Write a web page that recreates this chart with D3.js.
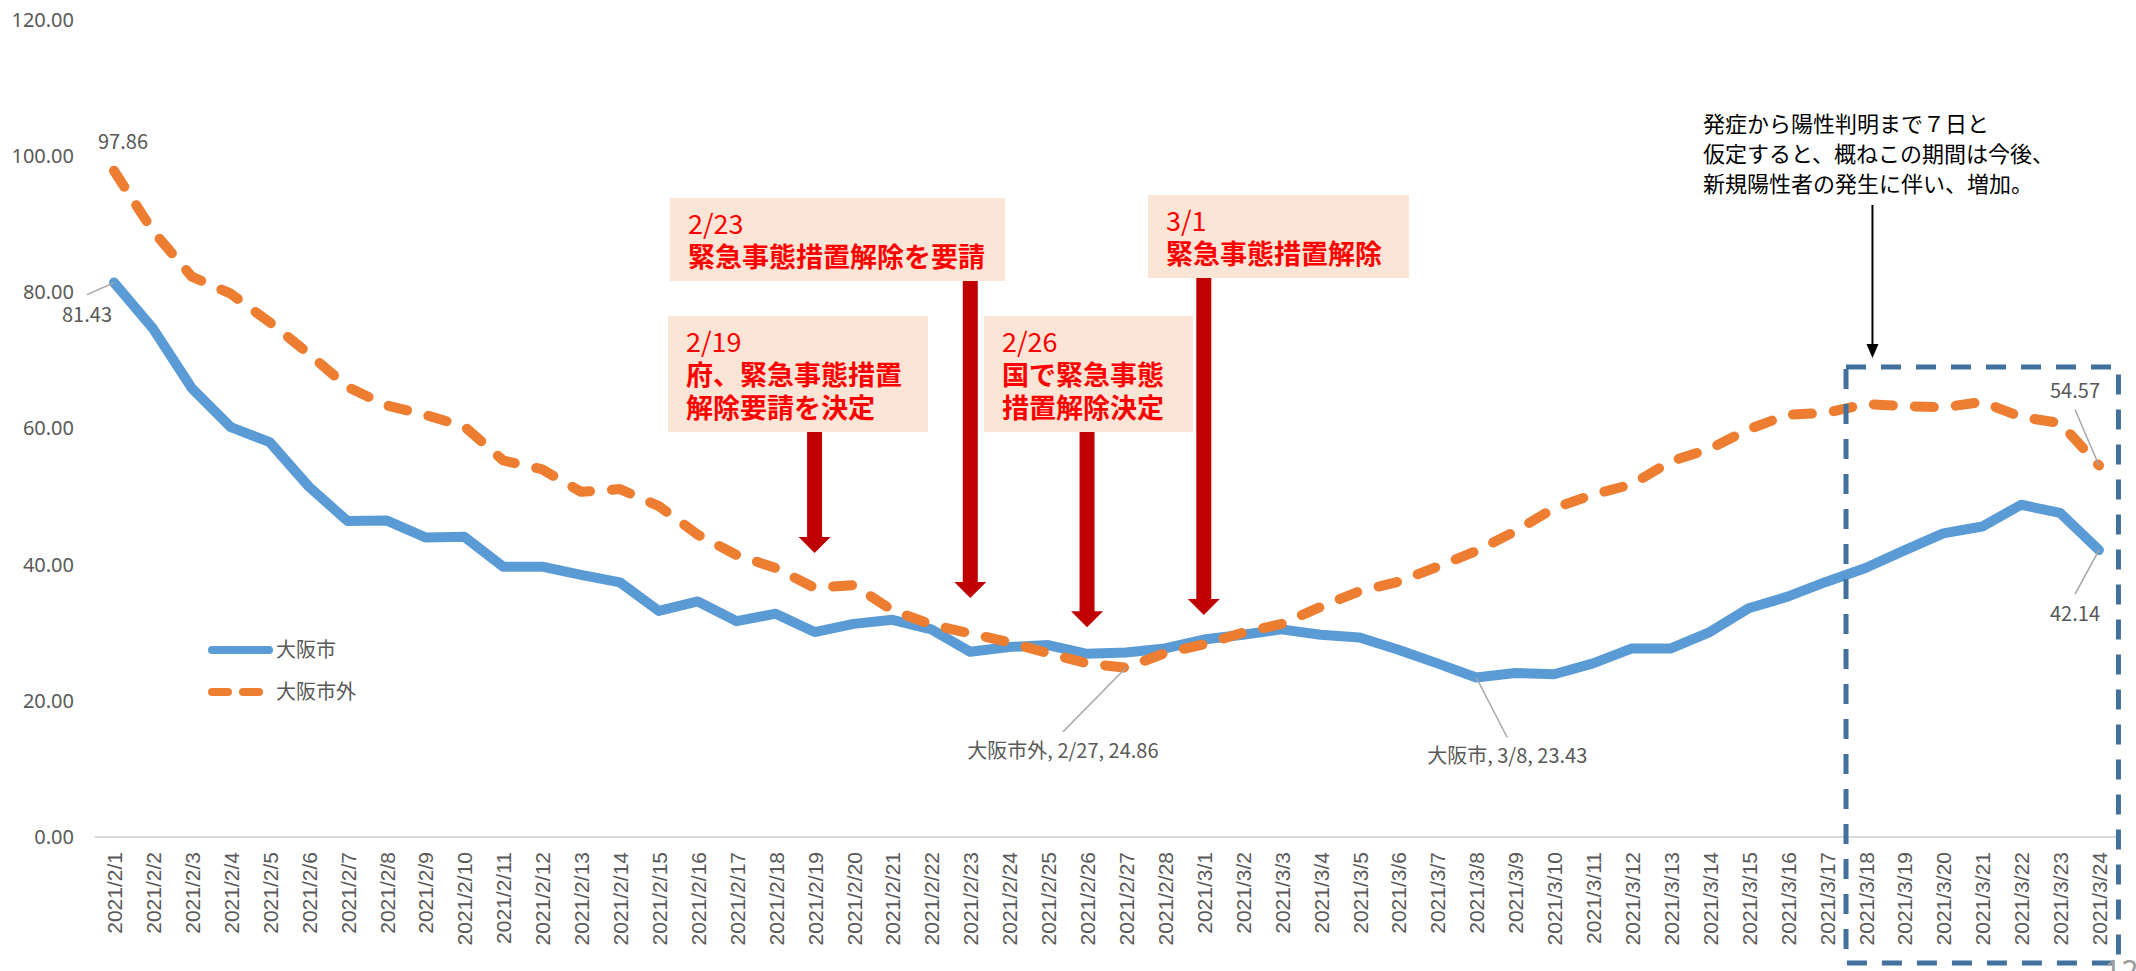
<!DOCTYPE html>
<html>
<head>
<meta charset="utf-8">
<script src="https://cdn.jsdelivr.net/npm/d3@7"></script>
<style>
  body { margin: 0; background: #fff; }
  svg { display: block; }
</style>
</head>
<body>
<svg id="chart" width="2136" height="971"></svg>
<script>
"use strict";

// Categories (x axis tick labels)
const CATEGORIES = [
  "2021/2/1", "2021/2/2", "2021/2/3", "2021/2/4", "2021/2/5", "2021/2/6", "2021/2/7",
  "2021/2/8", "2021/2/9", "2021/2/10", "2021/2/11", "2021/2/12", "2021/2/13", "2021/2/14",
  "2021/2/15", "2021/2/16", "2021/2/17", "2021/2/18", "2021/2/19", "2021/2/20", "2021/2/21",
  "2021/2/22", "2021/2/23", "2021/2/24", "2021/2/25", "2021/2/26", "2021/2/27", "2021/2/28",
  "2021/3/1", "2021/3/2", "2021/3/3", "2021/3/4", "2021/3/5", "2021/3/6", "2021/3/7",
  "2021/3/8", "2021/3/9", "2021/3/10", "2021/3/11", "2021/3/12", "2021/3/13", "2021/3/14",
  "2021/3/15", "2021/3/16", "2021/3/17", "2021/3/18", "2021/3/19", "2021/3/20", "2021/3/21",
  "2021/3/22", "2021/3/23", "2021/3/24"
];

// Series values
const SERIES_NAMES = ["大阪市", "大阪市外"];
const CITY = [
  81.43, 74.7, 65.9, 60.2, 58.0, 51.5, 46.4, 46.5, 44.0, 44.1, 39.7, 39.7, 38.5, 37.4,
  33.2, 34.6, 31.7, 32.8, 30.1, 31.3, 31.9, 30.5, 27.2, 27.9, 28.2, 26.9, 27.1, 27.7,
  29.0, 29.7, 30.5, 29.7, 29.3, 27.5, 25.5, 23.43, 24.1, 23.9, 25.5, 27.7, 27.7, 30.1,
  33.6, 35.3, 37.5, 39.5, 42.1, 44.6, 45.6, 48.8, 47.6, 42.14
];
const OUTSIDE = [
  97.86, 89.0, 82.3, 79.8, 75.6, 71.0, 66.1, 63.4, 62.0, 60.3, 55.3, 54.0, 50.7, 51.1,
  48.6, 44.4, 41.4, 39.5, 36.6, 37.0, 33.3, 31.2, 29.9, 28.6, 27.0, 25.5, 24.86, 27.0,
  28.3, 30.0, 31.3, 33.8, 36.1, 37.5, 39.7, 42.0, 44.9, 48.3, 50.3, 51.8, 55.2, 57.0,
  59.9, 62.0, 62.3, 63.6, 63.3, 63.1, 63.9, 61.7, 60.8, 54.57
];

// Y axis tick values
const Y_TICKS = [0, 20, 40, 60, 80, 100, 120];

// Event annotations (date, value where arrow points, text lines)
const EVENT_DATES = ["2021/2/19", "2021/2/23", "2021/2/26", "2021/3/1"];
const EVENT_TIPS = [41.7, 35.1, 30.8, 32.6];
const EVENT_TEXTS = [
  ["2/19", "府、緊急事態措置", "解除要請を決定"],
  ["2/23", "緊急事態措置解除を要請"],
  ["2/26", "国で緊急事態", "措置解除決定"],
  ["3/1", "緊急事態措置解除"]
];

// Note about the last week
const NOTE_LINES = [
  "発症から陽性判明まで７日と",
  "仮定すると、概ねこの期間は今後、",
  "新規陽性者の発生に伴い、増加。"
];
const NOTE_FROM = "2021/3/18";
const NOTE_TO = "2021/3/24";

/******************** Layout ********************/
const SVG = d3.select("#chart");
const COLORS = { city: "#5b9bd5", outside: "#ed7d31", axis: "#595959", grid: "#d9d9d9" };
const LATIN = "'Noto Sans', sans-serif";
const JP = "'Noto Sans CJK JP', sans-serif";

const X_SCALE = d3.scalePoint().domain(CATEGORIES).range([114, 2099]);
const Y_SCALE = d3.scaleLinear().domain([0, 120]).range([837, 20]);
const STEP = X_SCALE.step();

// Event box positions (layout only)
const BOXES = [
  { x: 668, y: 316, w: 260, h: 116 },
  { x: 670, y: 198, w: 335, h: 83 },
  { x: 984, y: 316, w: 209, h: 116 },
  { x: 1148, y: 195, w: 261, h: 83 }
];

/******************** Axes ********************/
// Y axis labels
const yAxis = d3.axisLeft(Y_SCALE)
  .tickValues(Y_TICKS)
  .tickFormat(d3.format(".2f"))
  .tickSize(0)
  .tickPadding(21);

const gY = SVG.append("g").attr("transform", "translate(95,0)").call(yAxis);
gY.select(".domain").remove();
gY.selectAll("text")
  .attr("fill", COLORS.axis)
  .style("font-family", LATIN)
  .style("font-size", "20px");

// X axis line
SVG.append("line")
  .attr("x1", X_SCALE(CATEGORIES[0]) - STEP / 2)
  .attr("x2", X_SCALE(CATEGORIES[CATEGORIES.length - 1]) + STEP / 2)
  .attr("y1", Y_SCALE(0))
  .attr("y2", Y_SCALE(0))
  .attr("stroke", COLORS.grid)
  .attr("stroke-width", 2);

// X axis labels (rotated)
const xAxis = d3.axisBottom(X_SCALE).tickSize(0);
const gX = SVG.append("g").attr("transform", "translate(0," + Y_SCALE(0) + ")").call(xAxis);
gX.select(".domain").remove();
gX.selectAll("text")
  .attr("transform", "rotate(-90)")
  .attr("text-anchor", "end")
  .attr("x", -15)
  .attr("y", 0)
  .attr("dy", "0.36em")
  .attr("fill", COLORS.axis)
  .style("font-family", "'Liberation Sans', Arial, sans-serif")
  .style("font-size", "21px");

/******************** Lines ********************/
const LINE = d3.line()
  .x((d, i) => X_SCALE(CATEGORIES[i]))
  .y(d => Y_SCALE(d));

SVG.append("path")
  .datum(CITY)
  .attr("d", LINE)
  .attr("fill", "none")
  .attr("stroke", COLORS.city)
  .attr("stroke-width", 10)
  .attr("stroke-linejoin", "round")
  .attr("stroke-linecap", "round");

SVG.append("path")
  .datum(OUTSIDE)
  .attr("d", LINE)
  .attr("fill", "none")
  .attr("stroke", COLORS.outside)
  .attr("stroke-width", 10)
  .attr("stroke-dasharray", "19 22")
  .attr("stroke-linejoin", "round")
  .attr("stroke-linecap", "round");

/******************** Data labels ********************/
function pt(series, idx) {
  return [X_SCALE(CATEGORIES[idx]), Y_SCALE(series[idx])];
}
const LAST = CATEGORIES.length - 1;
const iMinCity = CITY.indexOf(d3.min(CITY));
const iMinOut = OUTSIDE.indexOf(d3.min(OUTSIDE));
const fmt = d3.format(".2f");
const shortDate = s => s.split("/").slice(1).join("/");

const LABELS = [
  { p: pt(OUTSIDE, 0), text: fmt(OUTSIDE[0]), dx: 9, dy: -22, lead: null },
  { p: pt(CITY, 0), text: fmt(CITY[0]), dx: -27, dy: 39, lead: [-27, 12] },
  { p: pt(OUTSIDE, iMinOut), text: SERIES_NAMES[1] + ", " + shortDate(CATEGORIES[iMinOut]) + ", " + fmt(OUTSIDE[iMinOut]), dx: -63, dy: 90, lead: [-63, 64] },
  { p: pt(CITY, iMinCity), text: SERIES_NAMES[0] + ", " + shortDate(CATEGORIES[iMinCity]) + ", " + fmt(CITY[iMinCity]), dx: 31, dy: 86, lead: [31, 60] },
  { p: pt(OUTSIDE, LAST), text: fmt(OUTSIDE[LAST]), dx: -24, dy: -67, lead: [-24, -56] },
  { p: pt(CITY, LAST), text: fmt(CITY[LAST]), dx: -24, dy: 71, lead: [-24, 44] }
];

LABELS.forEach(l => {
  if (l.lead) {
    SVG.append("line")
      .attr("x1", l.p[0]).attr("y1", l.p[1])
      .attr("x2", l.p[0] + l.lead[0]).attr("y2", l.p[1] + l.lead[1])
      .attr("stroke", "#a6a6a6")
      .attr("stroke-width", 1.5);
  }
  SVG.append("text")
    .attr("x", l.p[0] + l.dx)
    .attr("y", l.p[1] + l.dy)
    .attr("text-anchor", "middle")
    .attr("fill", COLORS.axis)
    .style("font-family", JP)
    .style("font-size", "20px")
    .text(l.text);
});

/******************** Legend ********************/
const legend = SVG.append("g").attr("transform", "translate(208,650)");
[0, 1].forEach(i => {
  legend.append("line")
    .attr("x1", 4).attr("x2", i === 0 ? 61 : 54)
    .attr("y1", i * 42).attr("y2", i * 42)
    .attr("stroke", i === 0 ? COLORS.city : COLORS.outside)
    .attr("stroke-width", 8)
    .attr("stroke-linecap", "round")
    .attr("stroke-dasharray", i === 0 ? null : "16 15");
  legend.append("text")
    .attr("x", 68)
    .attr("y", i * 42 + 7)
    .attr("fill", COLORS.axis)
    .style("font-family", JP)
    .style("font-size", "20px")
    .text(SERIES_NAMES[i]);
});

/******************** Event boxes & arrows ********************/
EVENT_DATES.forEach((d, i) => {
  const b = BOXES[i];
  const cx = X_SCALE(d);
  const tipY = Y_SCALE(EVENT_TIPS[i]);
  const top = b.y + b.h;
  const headH = 16, headW = 16, shaftW = 7.5;

  SVG.append("path")
    .attr("d",
      "M" + (cx - shaftW) + "," + top +
      "L" + (cx + shaftW) + "," + top +
      "L" + (cx + shaftW) + "," + (tipY - headH) +
      "L" + (cx + headW) + "," + (tipY - headH) +
      "L" + cx + "," + tipY +
      "L" + (cx - headW) + "," + (tipY - headH) +
      "L" + (cx - shaftW) + "," + (tipY - headH) + "Z")
    .attr("fill", "#c00000");

  SVG.append("rect")
    .attr("x", b.x).attr("y", b.y)
    .attr("width", b.w).attr("height", b.h)
    .attr("fill", "#fbe5d6");

  EVENT_TEXTS[i].forEach((t, j) => {
    SVG.append("text")
      .attr("x", b.x + 18)
      .attr("y", b.y + 36 + j * 33)
      .attr("fill", "#ff0000")
      .style("font-family", JP)
      .style("font-weight", j === 0 ? 400 : 700)
      .style("font-size", "27px")
      .text(t);
  });
});

/******************** Note and dashed frame ********************/
const frameX1 = X_SCALE(NOTE_FROM) - STEP / 2;
const frameX2 = X_SCALE(NOTE_TO) + STEP / 2;

SVG.append("rect")
  .attr("x", frameX1).attr("y", 367)
  .attr("width", frameX2 - frameX1).attr("height", 596)
  .attr("fill", "none")
  .attr("stroke", "#41719c")
  .attr("stroke-width", 5)
  .attr("stroke-dasharray", "20 15");

NOTE_LINES.forEach((t, j) => {
  SVG.append("text")
    .attr("x", 1703)
    .attr("y", 132 + j * 30)
    .attr("fill", "#000")
    .style("font-family", JP)
    .style("font-size", "22px")
    .text(t);
});

const noteX = X_SCALE(NOTE_FROM) + 7;
SVG.append("line")
  .attr("x1", noteX).attr("x2", noteX)
  .attr("y1", 205).attr("y2", 346)
  .attr("stroke", "#000")
  .attr("stroke-width", 2);
SVG.append("path")
  .attr("d", "M" + (noteX - 6) + ",344L" + (noteX + 6) + ",344L" + noteX + ",358Z")
  .attr("fill", "#000");

// Page number
SVG.append("text")
  .attr("x", 2104).attr("y", 982)
  .attr("fill", "#999")
  .style("font-family", LATIN)
  .style("font-size", "30px")
  .text("12");
</script>
</body>
</html>
